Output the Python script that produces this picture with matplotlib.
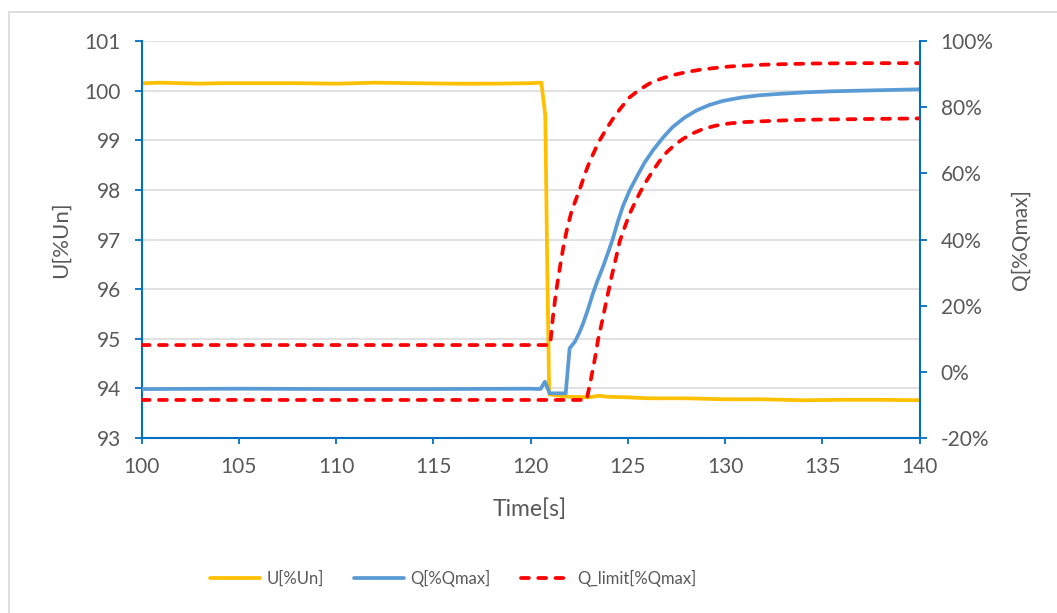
import matplotlib
matplotlib.use("Agg")
import matplotlib.pyplot as plt
from matplotlib.patches import Rectangle
from matplotlib.ticker import FuncFormatter, MultipleLocator

# ---------------- data ----------------
u_time = [100, 101, 103, 104, 106, 108, 110, 112, 114, 116, 118, 120, 120.55, 120.75,
          120.85, 120.95, 121.5, 122, 123, 123.5, 124, 125, 126, 128, 130, 132, 134,
          136, 138, 140]
u_vals = [100.15, 100.16, 100.14, 100.15, 100.15, 100.15, 100.14, 100.16, 100.15,
          100.14, 100.14, 100.15, 100.16, 99.5, 96.5, 93.88, 93.85, 93.83, 93.82,
          93.85, 93.83, 93.82, 93.80, 93.80, 93.78, 93.78, 93.76, 93.77, 93.77, 93.76]

q_time = [100, 105, 110, 115, 120, 120.5, 120.73, 120.98, 121.8, 122.0, 122.27, 122.5,
          122.7, 122.95, 123.2, 123.45, 123.72, 124.0, 124.23, 124.5, 124.75, 125.1,
          125.44, 125.85, 126.29, 126.8, 127.3, 127.9, 128.52, 129.2, 129.89, 130.8,
          131.77, 133, 134.2, 135.5, 137, 138.5, 140]
q_vals = [-5.2, -5.1, -5.2, -5.2, -5.1, -5.2, -3.0, -6.5, -6.5, 7.1, 9.1, 11.8,
          14.7, 19.0, 23.7, 27.8, 31.8, 36.4, 40.4, 45.8, 50.2, 55.0,
          58.8, 63.2, 67.0, 70.8, 74.0, 76.8, 79.0, 80.7, 81.9, 82.9,
          83.6, 84.1, 84.5, 84.8, 85.0, 85.2, 85.4]

qup_time = [100, 121.0, 121.15, 121.3, 121.5, 121.7, 121.9, 122.1, 122.35, 122.6, 122.8,
            123.03, 123.3, 123.55, 123.9, 124.23, 124.6, 125.09, 125.6, 126.12, 126.7,
            127.32, 128.0, 128.69, 129.4, 130.23, 131.77, 133, 134.5, 137, 140]
qup_vals = [8.1, 8.1, 17.0, 24.0, 31.5, 38.5, 44.0, 48.5, 52.5, 56.5, 60.0,
            63.5, 67.0, 70.0, 73.5, 76.5, 79.5, 83.0, 85.3, 87.2, 88.6,
            89.7, 90.6, 91.3, 91.8, 92.3, 92.8, 93.0, 93.2, 93.3, 93.3]

qlo_time = [100, 122.87, 123.0, 123.12, 123.3, 123.46, 123.7, 123.9, 124.15, 124.4,
            124.58, 124.85, 125.09, 125.35, 125.6, 125.9, 126.2, 126.6, 126.98, 127.4,
            127.83, 128.3, 128.86, 129.5, 130.23, 131.0, 131.77, 133, 134.2, 137, 140]
qlo_vals = [-8.5, -8.5, -5.0, -1.5, 4.0, 9.6, 16.0, 21.7, 28.5, 34.8,
            39.5, 44.0, 47.8, 51.0, 54.0, 57.2, 60.0, 63.5, 66.3, 68.6,
            70.4, 72.0, 73.4, 74.4, 75.1, 75.5, 75.7, 76.0, 76.2, 76.4, 76.6]

labels = ["U[%Un]", "Q[%Qmax]", "Q_limit[%Qmax]"]

# ---------------- style ----------------
plt.rcParams['font.family'] = ['Lato', 'DejaVu Sans']
W, H = 1057, 613
fig = plt.figure(figsize=(W / 100, H / 100), dpi=100)
fig.patch.set_facecolor('white')

# outer chart border
fig.patches.append(Rectangle((9 / W, -0.1), 1.2, 1 - 12 / H + 0.1, transform=fig.transFigure,
                             fill=False, edgecolor='#D9D9D9', linewidth=1.2))

x0, x1 = 141.7 / W, 919.7 / W
y0, y1 = 1 - 438 / H, 1 - 41 / H
ax = fig.add_axes([x0, y0, x1 - x0, y1 - y0])
ax2 = ax.twinx()

spine_c = '#0070C0'
text_c = '#595959'
fs = 15

ax.set_xlim(100, 140)
ax.set_ylim(93, 101)
ax2.set_ylim(-20, 100)
ax.xaxis.set_major_locator(MultipleLocator(5))
ax.yaxis.set_major_locator(MultipleLocator(1))
ax2.yaxis.set_major_locator(MultipleLocator(20))
ax2.yaxis.set_major_formatter(FuncFormatter(lambda v, p: f"{v:.0f}%"))

ax.grid(axis='y', color='#D9D9D9', linewidth=1.1)
ax.set_axisbelow(True)

for a in (ax, ax2):
    for s in a.spines.values():
        s.set_visible(False)
ax.spines['left'].set_visible(True)
ax.spines['bottom'].set_visible(True)
ax2.spines['right'].set_visible(True)
for s in (ax.spines['left'], ax.spines['bottom'], ax2.spines['right']):
    s.set_color(spine_c)
    s.set_linewidth(1.5)

ax.tick_params(axis='y', direction='out', length=5, width=1.3, color=spine_c,
               labelcolor=text_c, labelsize=fs, pad=10)
ax.tick_params(axis='x', direction='out', length=4.5, width=1.3, color=spine_c,
               labelcolor=text_c, labelsize=fs, pad=9)
ax2.tick_params(axis='y', direction='out', length=5, width=1.3, color=spine_c,
                labelcolor=text_c, labelsize=fs, pad=10)

lw = 2.7
dash = (0, (2.1, 2.5))
l1, = ax.plot(u_time, u_vals, color='#FFC000', linewidth=lw, solid_capstyle='round',
              solid_joinstyle='round')
l2, = ax2.plot(q_time, q_vals, color='#5B9BD5', linewidth=lw, solid_capstyle='round',
               solid_joinstyle='round')
l3, = ax2.plot(qup_time, qup_vals, color='#FF0000', linewidth=lw, linestyle=dash,
               dash_capstyle='round')
ax2.plot(qlo_time, qlo_vals, color='#FF0000', linewidth=lw, linestyle=dash,
         dash_capstyle='round')

fig.text(61 / W, 1 - 240 / H, "U[%Un]", rotation=90, ha='center', va='center',
         color=text_c, fontsize=16)
fig.text(1021 / W, 1 - 240 / H, "Q[%Qmax]", rotation=90, ha='center', va='center',
         color=text_c, fontsize=15)
fig.text(530 / W, 1 - 509 / H, "Time[s]", ha='center', va='center',
         color=text_c, fontsize=16.5)

fig.legend([l1, l2, l3], labels, loc='center', bbox_to_anchor=(453 / W, 1 - 578 / H),
           ncol=3, frameon=False, fontsize=12, labelcolor=text_c, handlelength=3.0,
           handletextpad=0.4, columnspacing=1.8)

fig.savefig("out.png", dpi=100)
